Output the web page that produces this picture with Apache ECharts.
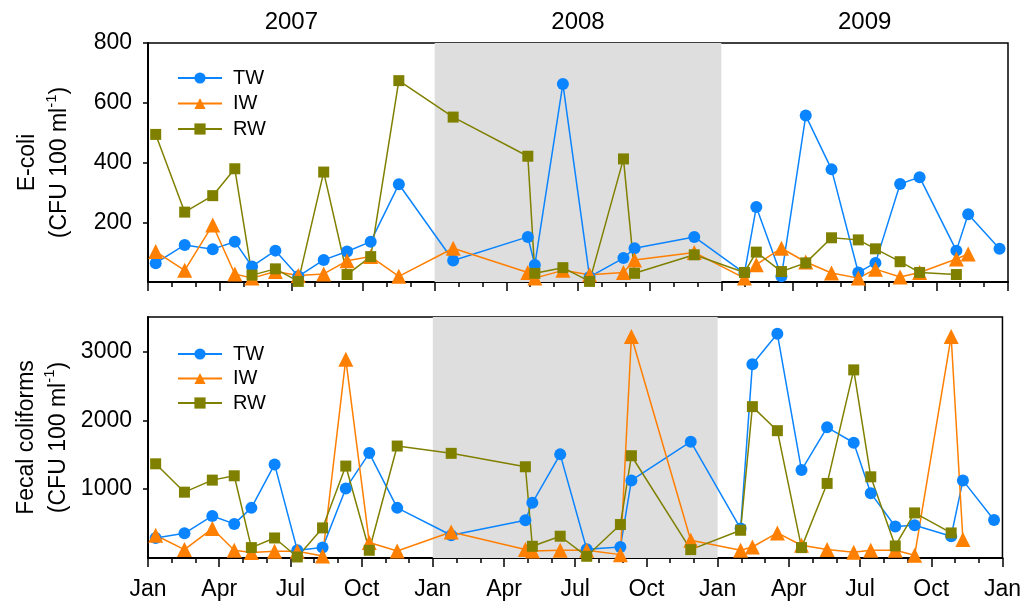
<!DOCTYPE html>
<html>
<head>
<meta charset="utf-8">
<script src="https://cdn.jsdelivr.net/npm/echarts@6/dist/echarts.min.js"></script>
<style>html,body{margin:0;padding:0;background:#fff}#c{width:1024px;height:605px}</style>
</head>
<body>
<div id="c"></div>
<script>
// Sampling dates
const dates = ['2007-01-11','2007-02-16','2007-03-23','2007-04-20','2007-05-12','2007-06-11','2007-07-10','2007-08-12','2007-09-11','2007-10-11','2007-11-16',
  '2008-01-25','2008-04-28','2008-05-07','2008-06-12','2008-07-16','2008-08-29','2008-09-12','2008-11-27',
  '2009-01-31','2009-02-14','2009-03-17','2009-04-17','2009-05-20','2009-06-23','2009-07-15','2009-08-16','2009-09-10','2009-10-27','2009-11-11','2009-12-21'];
const seriesNames = ['TW','IW','RW'];
const yearLabels = ['2007','2008','2009'];
const monthLabels = ['Jan','Apr','Jul','Oct'];
// E-coli (CFU 100 ml-1)
const ecoliTW = [63,124,110,135,52,105,19,74,102,135,327, 72,151,57,663,17,80,113,151, 30,251,19,557,377,32,64,328,351,105,227,111];
const ecoliIW = [102,39,191,27,13,35,22,27,71,85,19, 113,32,13,39,24,32,74,99, 13,58,113,67,30,13,43,17,32,77,94,null];
const ecoliRW = [494,234,289,379,23,44,2,368,25,85,674, 552,421,29,48,2,412,29,91, 32,100,35,64,148,141,111,68,32,25,null,null];
// Fecal coliforms (CFU 100 ml-1)
const fecalTW = [291,359,611,495,728,1359,112,151,1010,1524,728, 330,549,801,1505,127,160,1127,1689, 428,2815,3256,1277,1898,1674,942,457,476,316,1127,553];
const fecalIW = [330,122,428,112,79,98,98,29,2888,224,102, 378,122,102,112,112,49,3217,258, 112,160,364,185,122,83,112,112,39,3217,268,null];
const fecalRW = [1368,956,1131,1194,151,291,15,437,1335,112,1626, 1520,1325,170,316,25,486,1485,122, 403,2198,1849,151,1083,2732,1179,175,655,364,null,null];
const ecoliTicks = [200,400,600,800];
const fecalTicks = [1000,2000,3000];
const shadeYear = ['2008-01-01','2009-01-01'];

function monthPos(s){
  const p = s.split('-').map(Number);
  const dim = new Date(p[0], p[1], 0).getDate();
  return (p[0]-2007)*12 + (p[1]-1) + (p[2]-1)/dim;
}
function pts(arr){
  const out = [];
  dates.forEach((d,i)=>{ if(arr[i] !== null) out.push([monthPos(d), arr[i]]); });
  return out;
}
const colors = {TW:'#0a84ff', IW:'#ff7f00', RW:'#808000'};
const symbols = {TW:['circle',12], IW:['triangle',15], RW:['rect',11]};
const FONT = 'Liberation Sans, Arial, sans-serif';

function mk(name, arr, gi){
  return {
    name: name, type:'line', xAxisIndex: gi===0?0:2, yAxisIndex: gi, z: 3,
    data: pts(arr), symbol: symbols[name][0], symbolSize: symbols[name][1],
    showSymbol: true, animation:false,
    lineStyle:{color:colors[name], width:1.5},
    itemStyle:{color:colors[name]}
  };
}
function shade(gi){
  return {
    name:'shade'+gi, type:'line', xAxisIndex: gi===0?0:2, yAxisIndex: gi, z:1, data:[], silent:true,
    markArea:{silent:true, itemStyle:{color:'#dedede'},
      data:[[{xAxis: monthPos(shadeYear[0])},{xAxis: monthPos(shadeYear[1])}]]}
  };
}
const axisLine = {show:true, onZero:false, lineStyle:{color:'#000', width:2}};
const xCommon = {type:'value', min:0, max:36, interval:3, splitLine:{show:false},
  axisLine: axisLine,
  axisTick:{show:true, length:9, lineStyle:{color:'#000', width:1.5}},
  minorTick:{show:true, splitNumber:3, length:5, lineStyle:{color:'#000', width:1.5}},
  minorSplitLine:{show:false}};
const nameRich = {
  a:{fontSize:23, fontFamily:FONT, color:'#000', lineHeight:32},
  s:{fontSize:15, fontFamily:FONT, color:'#000', verticalAlign:'top', lineHeight:32}
};
const legendText = {fontSize:20, color:'#000', fontFamily:FONT, padding:[0,0,0,6]};
const option = {
  animation:false,
  textStyle:{fontFamily:FONT},
  grid:[
    {left:148, top:43, width:860, height:239, show:true, borderColor:'#000', borderWidth:1.5, backgroundColor:'transparent'},
    {left:148, top:317, width:860, height:241, show:true, borderColor:'#000', borderWidth:1.5, backgroundColor:'transparent'}
  ],
  legend:[
    {left:172, top:63, orient:'vertical', itemWidth:44, itemHeight:14, itemGap:5.5,
     data:seriesNames, textStyle:legendText},
    {left:172, top:339, orient:'vertical', itemWidth:44, itemHeight:14, itemGap:4.5,
     data:seriesNames, textStyle:legendText}
  ],
  xAxis:[
    Object.assign({}, xCommon, {gridIndex:0, axisLabel:{show:false}}),
    {type:'value', gridIndex:0, position:'top', min:0, max:36, interval:6,
     axisLine:{show:false}, axisTick:{show:false}, splitLine:{show:false},
     axisLabel:{show:true, margin:9, fontSize:24, color:'#000', fontFamily:FONT,
       formatter:v => (v%12===6 ? yearLabels[Math.floor(v/12)] : '')}},
    Object.assign({}, xCommon, {gridIndex:1,
     axisLabel:{show:true, margin:20, fontSize:23, color:'#000', fontFamily:FONT,
       formatter:v => monthLabels[Math.round(v/3)%4]}})
  ],
  yAxis:[
    {type:'value', gridIndex:0, min:0, max:800, interval:200, splitLine:{show:false},
     axisLine: axisLine,
     axisTick:{show:true, length:5, lineStyle:{color:'#000', width:1.5}, customValues:ecoliTicks},
     axisLabel:{fontSize:23, color:'#000', margin:16, fontFamily:FONT, customValues:ecoliTicks,
       formatter:v => String(v)},
     name:'{a|E-coli}\n{a|(CFU 100 ml}{s|-1}{a|)}', nameLocation:'middle', nameRotate:90, nameGap:72,
     nameTextStyle:{align:'center', rich:nameRich}},
    {type:'value', gridIndex:1, min:0, max:3500, interval:500, splitLine:{show:false},
     axisLine: axisLine,
     axisTick:{show:true, length:5, lineStyle:{color:'#000', width:1.5}, customValues:fecalTicks},
     axisLabel:{fontSize:23, color:'#000', margin:16, fontFamily:FONT, customValues:fecalTicks,
       formatter:v => String(v)},
     name:'{a|Fecal coliforms}\n{a|(CFU 100 ml}{s|-1}{a|)}', nameLocation:'middle', nameRotate:90, nameGap:72,
     nameTextStyle:{align:'center', rich:nameRich}}
  ],
  series:[
    shade(0), shade(1),
    mk('TW', ecoliTW, 0), mk('IW', ecoliIW, 0), mk('RW', ecoliRW, 0),
    mk('TW', fecalTW, 1), mk('IW', fecalIW, 1), mk('RW', fecalRW, 1)
  ]
};
const chart = echarts.init(document.getElementById('c'), null, {renderer:'canvas'});
chart.setOption(option);
</script>
</body>
</html>
